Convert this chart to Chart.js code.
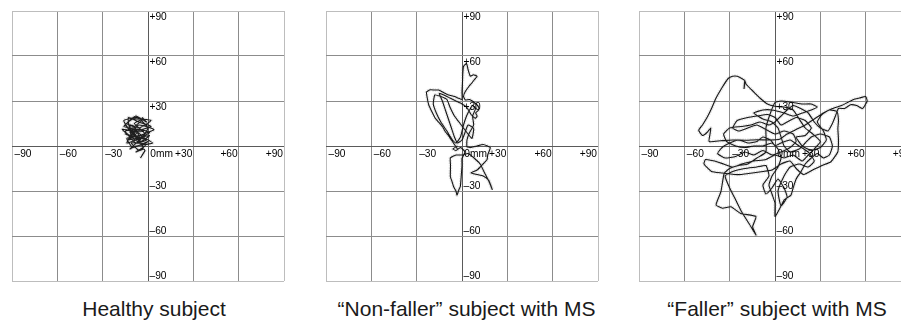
<!DOCTYPE html>
<html><head><meta charset="utf-8">
<script src="https://cdn.jsdelivr.net/npm/chart.js@4.4.1/dist/chart.umd.min.js"></script>
<style>
html,body{margin:0;padding:0;background:#fff;overflow:hidden;width:901px;height:322px;position:relative;}
.panel{position:absolute;}
.cap{position:absolute;font-family:"Liberation Sans",Arial,sans-serif;font-size:21px;color:#1a1a1a;white-space:nowrap;transform:translateX(-50%);line-height:24px;top:297px;}
</style></head><body>
<div class="panel" id="p0"><canvas id="c0"></canvas></div>
<div class="panel" id="p1"><canvas id="c1"></canvas></div>
<div class="panel" id="p2"><canvas id="c2"></canvas></div>
<div class="cap" id="t0"></div>
<div class="cap" id="t1"></div>
<div class="cap" id="t2"></div>
<script>
// ---- data (mm) ----
const healthyPath = [[-4,19],[-1,16],[-8,20],[-14,15],[-6,12],[2,17],[-10,18],[-16,13],[-3,10],[-12,9],[-6,14],[4,11],[-9,6],[-15,8],[-2,5],[-11,12],[-5,3],[1,7],[-13,4],[-7,9],[-17,11],[-4,1],[0,3],[-10,-1],[-14,5],[-6,7],[3,2],[-8,0],[-12,-2],[-2,8],[-9,15],[-3,18],[-12,11],[-16,17],[-7,19],[0,12],[-4,6],[-14,2],[-10,9],[2,13],[-6,16],[-13,19],[-11,7],[-1,4],[-8,2],[-15,10],[-5,11],[1,9],[-9,4],[-12,14],[-9,13],[-5,4],[-15,14],[-3,-1],[-8,-4],[-1,1],[-11,2],[-6,-3],[-3,-2],[-2,-3],[-5,-8]];
const nonFallerPath = [[-3,-2],[-5,1],[-7,4],[-9,7],[-11,9.5],[-13,13],[-15.5,16],[-17.7,18.5],[-20,23],[-22,27.3],[-23,32],[-23.5,36],[-21,37.5],[-18,37.3],[-15.5,37.3],[-12,35.5],[-8.9,34],[-5,33],[-2.2,31.8],[0,31],[0,36],[0.3,42],[0.5,48],[1,53],[3,55],[4,51],[5.5,46.5],[7.5,47.5],[10,46.5],[8,44],[6.5,42],[4.4,39.5],[2,36],[1,33],[2.2,30.7],[5,31],[8.8,28.5],[11,26],[11,24],[9,22],[10,20],[8.8,18.5],[6,21],[3,26],[0,28],[-4,30],[-8,32],[-12,34],[-15,35],[-13,30],[-11,24],[-9,18],[-7,12],[-5,6],[-3,2],[0,4],[2,9],[4,14],[7.7,11.8],[6.6,5.1],[4,8],[1,12],[-2,16],[-5,20],[-8,26],[-10,31],[-14,33],[-18,34],[-19,28],[-17,22],[-14,16],[-10,10],[-7,5],[-4,2],[-1,6],[1,14],[3,20],[5,24],[7,27],[9,25],[7,20],[7.7,14],[5,9],[3.3,4],[3.3,-0.5],[6,-1],[10,0],[14,1],[18.7,-1],[17,-6],[16.6,-9],[13,-13],[10,-16],[6,-18],[10,-19],[14,-20],[17.6,-22.7],[19,-26],[20,-29],[18,-24],[15,-18],[12,-12],[8,-8],[4,-5],[0,-6],[-4,-6],[-7.7,-8],[-7.6,-13],[-7.7,-20.5],[-6.5,-24],[-5.6,-27],[-4,-30],[-3.3,-32.7],[-2,-29],[-1.1,-27],[-0.5,-20],[0,-13],[0,-8.2],[2,-4],[-1,-1],[-4,-3],[-6,-2],[-3,0]];
const fallerPath = [[0,0],[-3,4],[-8,6],[-12,3],[-18,2],[-24,4],[-30,2],[-35,-1],[-38,-5],[-33,-8],[-26,-7],[-20,-4],[-14,-6],[-8,-3],[-2,-6],[4,-4],[10,-1],[14,3],[12,8],[6,10],[0,8],[-6,11],[-12,14],[-18,12],[-24,10],[-28,12],[-25,17],[-18,19],[-12,20],[-5,21],[0,19],[4,14],[8,16],[14,19],[20,17],[24,12],[20,7],[14,6],[18,0],[24,-3],[30,-1],[34,4],[32,10],[28,16],[31,21],[36,24],[41,23],[42,17],[41.6,11.8],[42,4],[41.6,-3.8],[37,-10.5],[31,-13],[25,-16],[19,-19],[14,-15],[10,-10],[4,-12],[-2,-16],[-8,-17],[-15,-18],[-22,-19],[-27,-19],[-35,-18],[-42,-17],[-47,-12],[-46,-9],[-40,-10],[-34,-12],[-28,-14],[-22,-12],[-14,-10],[-6,-9],[0,-6],[6,-8],[12,-6],[18,-10],[22,-6],[26,-2],[30,3],[25,8],[20,12],[16,18],[12,24],[6,26],[0,26.5],[-5,28],[-10,32],[-15,37],[-19,41],[-20,43.5],[-20.5,38],[-20,43.5],[-22,45],[-25,46.5],[-28,46.5],[-31,45],[-35,39],[-39,32],[-42,25],[-44.7,19.5],[-48,14],[-50.5,10.5],[-48,7],[-45,9],[-42.5,12],[-43,8],[-43.6,3],[-36,3.5],[-28,4],[-20,3.8],[-12,4.2],[-4,4],[3,4.5],[8,8],[14,11],[20,14],[26,18],[32,22],[38,25],[44,27],[48,29],[52,31],[56,32],[60,33],[61,30],[58,25],[54,27],[50,27.5],[46,25],[42,25],[40,20],[38,15],[35,10],[30,12],[26,16],[22,22],[17,25],[12,27],[8,24],[4,20],[0,16],[-4,14],[-10,16],[-16,14],[-22,13],[-30,12],[-34,8],[-32,3],[-26,0],[-20,-1],[-14,0],[-8,0],[-2,2],[2,-2],[4,-8],[2,-14],[-2,-20],[-4,-26],[-2,-32],[0,-38],[0,-47],[3,-42],[6,-36],[10.6,-32.7],[12,-28],[14,-22],[17.3,-17],[20,-12],[24,-8],[28,-5],[32,-8],[36,-6],[38,0],[36,6],[30,8],[24,6],[20,2],[16,-2],[10,-4],[6,0],[4,6],[2,12],[-2,16],[-8,18],[-14,22],[-8,24],[-2,24],[6,22],[12,20],[18,22],[24,24],[28,26],[24,28],[18,28],[12,29],[4,30],[0,29],[-3,22],[-6,12],[-6,-4],[-12,-8],[-18,-12],[-24,-13],[-30,-15],[-33.6,-18.2],[-35.8,-30.5],[-39,-39.3],[-34.7,-41.5],[-29.2,-40.5],[-22.6,-45],[-12.6,-47],[-14.8,-53.8],[-12.6,-59.3],[-17,-52],[-22,-44],[-26,-36],[-30,-28],[-33,-20],[-28,-17],[-20,-15],[-12,-14],[-6,-13],[-4,-20],[-8,-26],[-6,-32],[-2,-28],[2,-22],[6,-28],[8,-34],[4,-40],[2,-30],[6,-20],[10,-14],[16,-12],[22,-14],[26,-10],[22,-4],[16,0],[10,4],[4,2],[0,0]];
const yTickValues = [90,60,30,-30,-60,-90];
const yTickLabels = ['+90','+60','+30','\u201330','\u201360','\u201390'];
const xTickValues = [-90,-60,-30,0,30,60,90];
const xTickLabels = ['\u201390','\u201360','\u201330','0mm','+30','+60','+90'];
const captions = ['Healthy subject','\u201cNon-faller\u201d subject with MS','\u201cFaller\u201d subject with MS'];
const paths = [healthyPath, nonFallerPath, fallerPath];

// ---- layout ----
const PAD = 4, GW = 272, GH = 270, TOP = 11;
const lefts = [12, 326, 639];
const capCenters = [154, 466.5, 777];

const labelPlugin = {
  id: 'axisLabels',
  afterDatasetsDraw(chart) {
    const {ctx, scales: {x, y}} = chart;
    const x0 = x.getPixelForValue(0), y0 = y.getPixelForValue(0);
    ctx.save();
    ctx.font = '10.2px "Liberation Sans", Arial, sans-serif';
    ctx.fillStyle = '#000';
    ctx.textBaseline = 'middle';
    yTickValues.forEach((v, i) => {
      const py = y.getPixelForValue(v);
      ctx.textAlign = 'left';
      ctx.fillText(yTickLabels[i], x0 + 1.5, v > 0 ? py + 6 : py - 4.5);
    });
    xTickValues.forEach((v, i) => {
      const px = x.getPixelForValue(v);
      if (v < 0) { ctx.textAlign = 'left'; ctx.fillText(xTickLabels[i], px + 2.5, y0 + 8.3); }
      else if (v === 0) { ctx.textAlign = 'left'; ctx.fillText(xTickLabels[i], px + 2.3, y0 + 8.3); }
      else { ctx.textAlign = 'right'; ctx.fillText(xTickLabels[i], px - 1, y0 + 8.3); }
    });
    ctx.restore();
  }
};

function gridColor(c) {
  const v = c.tick && c.tick.value;
  if (v === 0) return '#5a5a5a';
  if (v === 90 || v === -90) return '#bdbdbd';
  return '#8c8c8c';
}

paths.forEach((path, i) => {
  const div = document.getElementById('p' + i);
  div.style.left = (lefts[i] - PAD) + 'px';
  div.style.top = (TOP - PAD) + 'px';
  const cv = document.getElementById('c' + i);
  cv.width = GW + 2 * PAD; cv.height = GH + 2 * PAD;
  cv.style.width = cv.width + 'px'; cv.style.height = cv.height + 'px';
  const pts = path.map(p => ({x: p[0], y: p[1]}));
  new Chart(cv, {
    type: 'scatter',
    data: {datasets: [
      {data: pts, showLine: true, borderColor: 'rgba(110,110,110,0.22)', borderWidth: 3.5, borderDash: [1.5, 1], pointRadius: 0, tension: 0.15},
      {data: pts, showLine: true, borderColor: '#0a0a0a', borderWidth: 1.1, pointRadius: 0, tension: 0.15}
    ]},
    options: {
      responsive: false, animation: false, devicePixelRatio: 1,
      layout: {padding: PAD},
      plugins: {legend: {display: false}, tooltip: {enabled: false}},
      scales: {
        x: {type: 'linear', min: -90, max: 90, ticks: {stepSize: 30, display: false},
            grid: {color: gridColor, drawTicks: false, lineWidth: 1}, border: {display: false},
            afterFit: s => { s.height = 0; }},
        y: {type: 'linear', min: -90, max: 90, ticks: {stepSize: 30, display: false},
            grid: {color: gridColor, drawTicks: false, lineWidth: 1}, border: {display: false},
            afterFit: s => { s.width = 0; }}
      }
    },
    plugins: [labelPlugin]
  });
  const t = document.getElementById('t' + i);
  t.textContent = captions[i];
  t.style.left = capCenters[i] + 'px';
});
</script>
</body></html>
